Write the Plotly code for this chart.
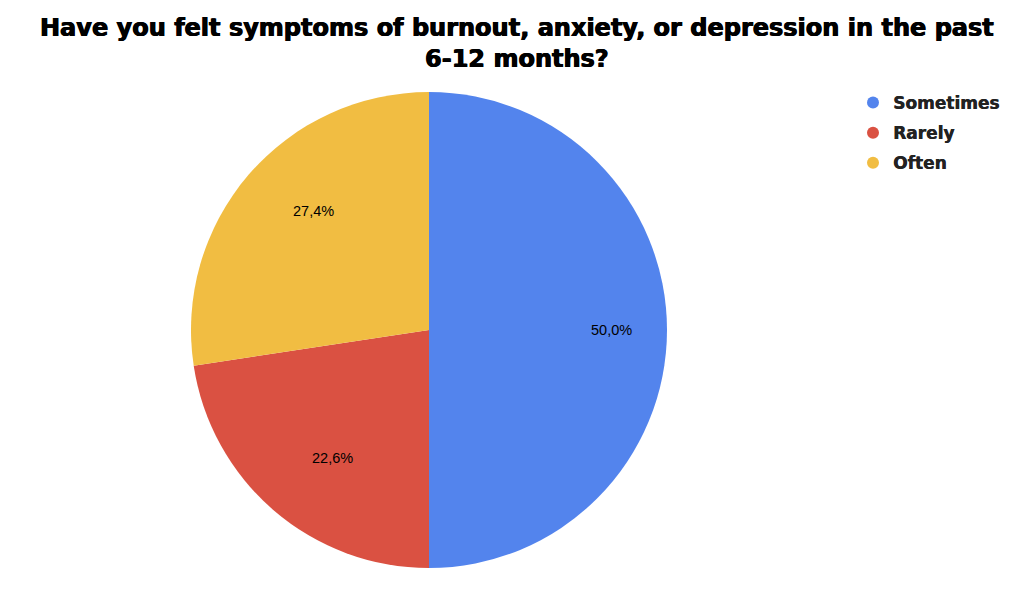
import math
import plotly.graph_objects as go

labels = ["Sometimes", "Rarely", "Often"]
values = [50.0, 22.6, 27.4]
colors = ["#5384ED", "#DA5142", "#F1BD42"]

title_text = "Have you felt symptoms of burnout, anxiety, or depression in the past<br>6-12 months?"

W, H = 1024, 591
OFF = 8  # page body margin shifts the plot by this much
# pie placement (screen pixels) -> paper domain
cx, cy, R = 429 - OFF, 330 - OFF, 238
dom_x = [(cx - R) / W, (cx + R) / W]
dom_y = [1 - (cy + R) / H, 1 - (cy - R) / H]

heavy = "DejaVu Sans, Liberation Sans, sans-serif"
thick = "0.5px 0 0 black, -0.5px 0 0 black"

fig = go.Figure()
fig.add_trace(go.Pie(
    labels=labels,
    values=values,
    textinfo="none",
    marker=dict(colors=colors, line=dict(width=0)),
    sort=False,
    direction="clockwise",
    rotation=0,
    domain=dict(x=dom_x, y=dom_y),
    showlegend=False,
))

# legend entries with round markers
for lab, col in zip(labels, colors):
    fig.add_trace(go.Scatter(
        x=[None], y=[None], mode="markers", name=lab, legendgroup=lab,
        marker=dict(symbol="circle", size=15, color=col),
    ))

# percentage labels at ~0.765 R on each slice's mid-angle (clockwise from 12 o'clock)
total = sum(values)
start = 0.0
for v in values:
    mid = (start + v / 2) / total * 2 * math.pi
    start += v
    px = cx + 0.765 * R * math.sin(mid)
    py = cy - 0.765 * R * math.cos(mid)
    fig.add_annotation(
        x=px / W, y=1 - py / H, xref="paper", yref="paper",
        text=f"{v:.1f}".replace(".", ",") + "%", showarrow=False,
        font=dict(family="Liberation Sans, Arial, sans-serif", size=14.5, color="black"),
    )

# two-line title in one block
fig.add_annotation(
    x=(517 - OFF) / W, y=1 - (44 - OFF) / H, xref="paper", yref="paper",
    xanchor="center", yanchor="middle", text=title_text, showarrow=False,
    font=dict(family=heavy, size=24, color="black", weight="bold", shadow=thick),
)

fig.update_layout(
    width=W, height=H,
    margin=dict(l=0, r=0, t=0, b=0),
    paper_bgcolor="white",
    plot_bgcolor="white",
    xaxis=dict(visible=False),
    yaxis=dict(visible=False),
    legend=dict(
        x=(853 - OFF) / W, y=1 - (85 - OFF) / H, xanchor="left", yanchor="top",
        font=dict(family=heavy, size=17, color="#222222", weight="bold", shadow="0.4px 0 0 #222222"),
        itemsizing="constant",
        tracegroupgap=5,
    ),
)

fig.write_html("out.html")
